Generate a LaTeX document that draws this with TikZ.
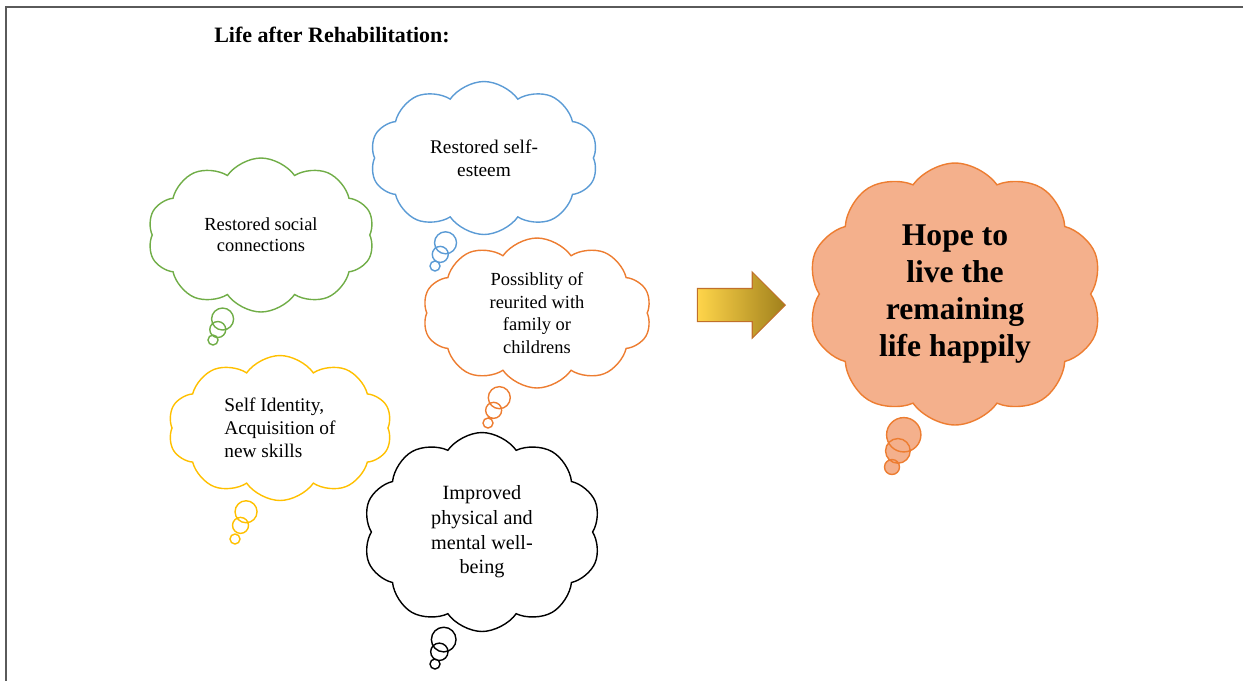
\documentclass[tikz,border=0pt]{standalone}
\usepackage{fontspec}
\setmainfont{Liberation Serif}
\usetikzlibrary{shapes.callouts,shapes.symbols,shapes.arrows}

\definecolor{cgreen}{HTML}{70AD47}
\definecolor{cblue}{HTML}{5B9BD5}
\definecolor{corange}{HTML}{ED7D31}
\definecolor{cyellow}{HTML}{FFC000}
\definecolor{hopefill}{HTML}{F4B08C}
\definecolor{framegray}{HTML}{5A5A5A}
\definecolor{arrowleft}{HTML}{FFD54A}
\definecolor{arrowright}{HTML}{A0801C}
\definecolor{arrowedge}{HTML}{C0702A}

\tikzset{
  thought/.style={cloud callout, draw, line width=0.8pt, cloud puffs=10,
    cloud puff arc=110, cloud ignores aspect, inner sep=0pt, align=center,
    callout pointer segments=3,
    callout pointer start size=0.56cm and 0.56cm,
    callout pointer end size=0.2cm and 0.2cm},
}

\begin{document}
\begin{tikzpicture}[x=0.02cm,y=-0.02cm,font=\fontsize{11}{13}\selectfont]
\useasboundingbox (0,0) rectangle (1244,681);
\draw[framegray, line width=1.2pt] (1243,7) -- (6,7) -- (6,681);

\node[font=\fontsize{12.5}{15}\selectfont\bfseries] (title) at (332,35) {Life after Rehabilitation:};

\node[thought, draw=cgreen, minimum width=4.54cm, minimum height=3.08cm,
  font=\fontsize{10.5}{12}\selectfont,
  callout absolute pointer={(213,340)}] (social) at (261,235)
  {Restored social\\connections};
\node[thought, draw=cblue, minimum width=4.56cm, minimum height=3.06cm,
  callout absolute pointer={(435,266)}] (esteem) at (484,158)
  {Restored self-\\esteem};
\node[thought, draw=corange, minimum width=4.58cm, minimum height=3cm,
  font=\fontsize{10.5}{12.8}\selectfont,
  callout absolute pointer={(488,423)}] (family) at (537,313)
  {Possiblity of\\reurited with\\family or\\childrens};
\node[thought, draw=cyellow, minimum width=4.48cm, minimum height=2.9cm, align=left,
  callout absolute pointer={(235,539)}] (skills) at (280,428)
  {Self Identity,\\Acquisition of\\new skills};
\node[thought, draw=black, minimum width=4.76cm, minimum height=3.98cm,
  font=\fontsize{11.5}{14}\selectfont,
  callout pointer start size=0.64cm and 0.64cm,
  callout absolute pointer={(435,664)}] (wellbeing) at (482,532)
  {Improved\\physical and\\mental well-\\being};

\node[single arrow, draw=arrowedge, line width=0.6pt, left color=arrowleft,
  right color=arrowright, minimum height=1.76cm, minimum width=1.3cm,
  single arrow head extend=0.33cm, inner sep=0pt, inner ysep=0.32cm] (arrow) at (733,305) {};

\node[thought, draw=corange, fill=hopefill, minimum width=5.9cm, minimum height=5.24cm,
  font=\fontsize{18}{21}\selectfont\bfseries,
  callout pointer start size=0.88cm and 0.88cm,
  callout pointer end size=0.3cm and 0.3cm,
  callout absolute pointer={(892,467)}] (hope) at (955,294)
  {Hope to\\live the\\remaining\\life happily};
\end{tikzpicture}
\end{document}
